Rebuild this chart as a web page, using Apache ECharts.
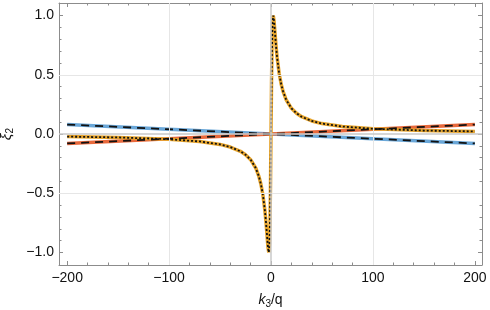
<!DOCTYPE html>
<html>
<head>
<meta charset="utf-8">
<script src="https://cdn.jsdelivr.net/npm/echarts@6/dist/echarts.min.js"></script>
<style>html,body{margin:0;padding:0;background:#fff}#c{width:490px;height:310px}</style>
</head>
<body>
<div id="c"></div>
<script>
// ---- data ----
const xMajorTicks = [-200, -100, 0, 100, 200];
const xMinorTicks = [-180,-160,-140,-120,-80,-60,-40,-20,20,40,60,80,120,140,160,180];
const yMajorTicks = [-1.0, -0.5, 0.0, 0.5, 1.0];
const yMinorTicks = [-0.9,-0.8,-0.7,-0.6,-0.4,-0.3,-0.2,-0.1,0.1,0.2,0.3,0.4,0.6,0.7,0.8,0.9];
const xGridLines = [-100, 100];
const yGridLines = [-0.5, 0.5];

const kLine = [-200, 200];
const xiBlue = [0.08, -0.08];
const xiRed = [-0.08, 0.08];

const kOrange = [-200,-150,-100,-70,-50,-40,-30,-25,-20,-15,-12,-10,-8,-6,-5,-4,-3,-2.2,-1.5,-1,-0.5,0,
                 0.5,1,1.5,2.2,3,4,5,6,8,10,12,15,20,25,30,40,50,70,100,150,200];
const xiOrange = [-0.022,-0.029,-0.044,-0.063,-0.088,-0.110,-0.146,-0.175,-0.217,-0.287,-0.355,-0.420,-0.511,-0.646,-0.737,-0.845,-0.954,-1.0,-0.931,-0.753,-0.432,0,
                  0.432,0.753,0.931,1.0,0.954,0.845,0.737,0.646,0.511,0.420,0.355,0.287,0.217,0.175,0.146,0.110,0.088,0.063,0.044,0.029,0.022];

const XMIN = -208, XMAX = 207, YMIN = -1.106, YMAX = 1.106;
const FRAME = '#8c8c8c';
const FONT = "'Liberation Sans', Arial, sans-serif";

function pairs(xs, ys){ return xs.map((x,i)=>[x, ys[i]]); }
function minus(s){ return String(s).replace('-', '\u2212'); }

function mkX(pos, ticks, len, labels, line){
  return {
    type:'value', position:pos, min:XMIN, max:XMAX,
    axisLine:{show:line, onZero:false, lineStyle:{color:FRAME, width:1}},
    axisTick:{show:true, inside:true, length:len, customValues:ticks, lineStyle:{color:FRAME, width:1}},
    axisLabel:{show:labels, customValues:ticks, margin:6, fontSize:14, color:'#111', fontFamily:FONT,
               formatter:v=>minus(v)},
    splitLine:{show:false}, minorTick:{show:false}
  };
}
function mkY(pos, ticks, len, labels, line){
  return {
    type:'value', position:pos, min:YMIN, max:YMAX,
    axisLine:{show:line, onZero:false, lineStyle:{color:FRAME, width:1}},
    axisTick:{show:true, inside:true, length:len, customValues:ticks, lineStyle:{color:FRAME, width:1}},
    axisLabel:{show:labels, customValues:ticks, margin:5, fontSize:14, color:'#111', fontFamily:FONT,
               formatter:v=>minus(Number(v).toFixed(1))},
    splitLine:{show:false}, minorTick:{show:false}
  };
}

const xAxes = [
  mkX('bottom', xMajorTicks, 4, true, true),
  mkX('bottom', xMinorTicks, 2.5, false, false),
  mkX('top', xMajorTicks, 4, false, true),
  mkX('top', xMinorTicks, 2.5, false, false)
];
Object.assign(xAxes[0], {
  name:'{k|k}{s|3}{n|/q}', nameLocation:'middle', nameGap:27,
  nameTextStyle:{fontFamily:FONT, color:'#111', rich:{
    k:{fontStyle:'italic', fontSize:14, fontFamily:FONT, color:'#111'},
    s:{fontSize:10, fontFamily:FONT, color:'#111', padding:[7,0,0,0]},
    n:{fontSize:14, fontFamily:FONT, color:'#111'}
  }}
});
const yAxes = [
  mkY('left', yMajorTicks, 4, true, true),
  mkY('left', yMinorTicks, 2.5, false, false),
  mkY('right', yMajorTicks, 4, false, true),
  mkY('right', yMinorTicks, 2.5, false, false)
];
Object.assign(yAxes[0], {
  name:'{x|ξ}{s|2}', nameLocation:'middle', nameGap:43, nameRotate:90,
  nameTextStyle:{fontFamily:FONT, color:'#111', rich:{
    x:{fontStyle:'italic', fontSize:15, fontFamily:FONT, color:'#111'},
    s:{fontSize:10, fontFamily:FONT, color:'#111', padding:[7,0,0,0]}
  }}
});

const gridLineData = [
  ...xGridLines.map(v=>({xAxis:v, lineStyle:{color:'#e6e6e6', width:1, type:'solid'}})),
  ...yGridLines.map(v=>({yAxis:v, lineStyle:{color:'#e6e6e6', width:1, type:'solid'}})),
  {xAxis:0, lineStyle:{color:'#c8c8c8', width:1.5, type:'solid'}},
  {yAxis:0, lineStyle:{color:'#c8c8c8', width:1.5, type:'solid'}}
];

function lineSeries(data, color, width, type, z){
  return {type:'line', data:data, showSymbol:false, symbol:'none', silent:true, z:z,
          lineStyle:{color:color, width:width, type:type, cap:'butt'}, animation:false};
}

const option = {
  animation:false,
  grid:{left:59, right:8, top:3, bottom:45, containLabel:false, outerBoundsMode:'none'},
  xAxis:xAxes, yAxis:yAxes,
  series:[
    {type:'line', data:[[0,0]], showSymbol:false, symbol:'none', lineStyle:{opacity:0}, z:1, silent:true,
     markLine:{silent:true, symbol:'none', label:{show:false}, animation:false, data:gridLineData}},
    lineSeries(pairs(kLine, xiBlue), '#6aa7d8', 3.5, 'solid', 2),
    lineSeries(pairs(kLine, xiRed), '#e8693c', 3.5, 'solid', 2),
    lineSeries(pairs(kOrange, xiOrange), '#e6a42c', 3.5, 'solid', 2),
    lineSeries(pairs(kLine, xiBlue), '#111', 1.8, [8,6], 3),
    lineSeries(pairs(kLine, xiRed), '#111', 1.8, [8,6], 3),
    lineSeries(pairs(kOrange, xiOrange), '#111', 1.8, [2,2], 3)
  ]
};
const chart = echarts.init(document.getElementById('c'), null, {renderer:'canvas'});
chart.setOption(option);
</script>
</body>
</html>
